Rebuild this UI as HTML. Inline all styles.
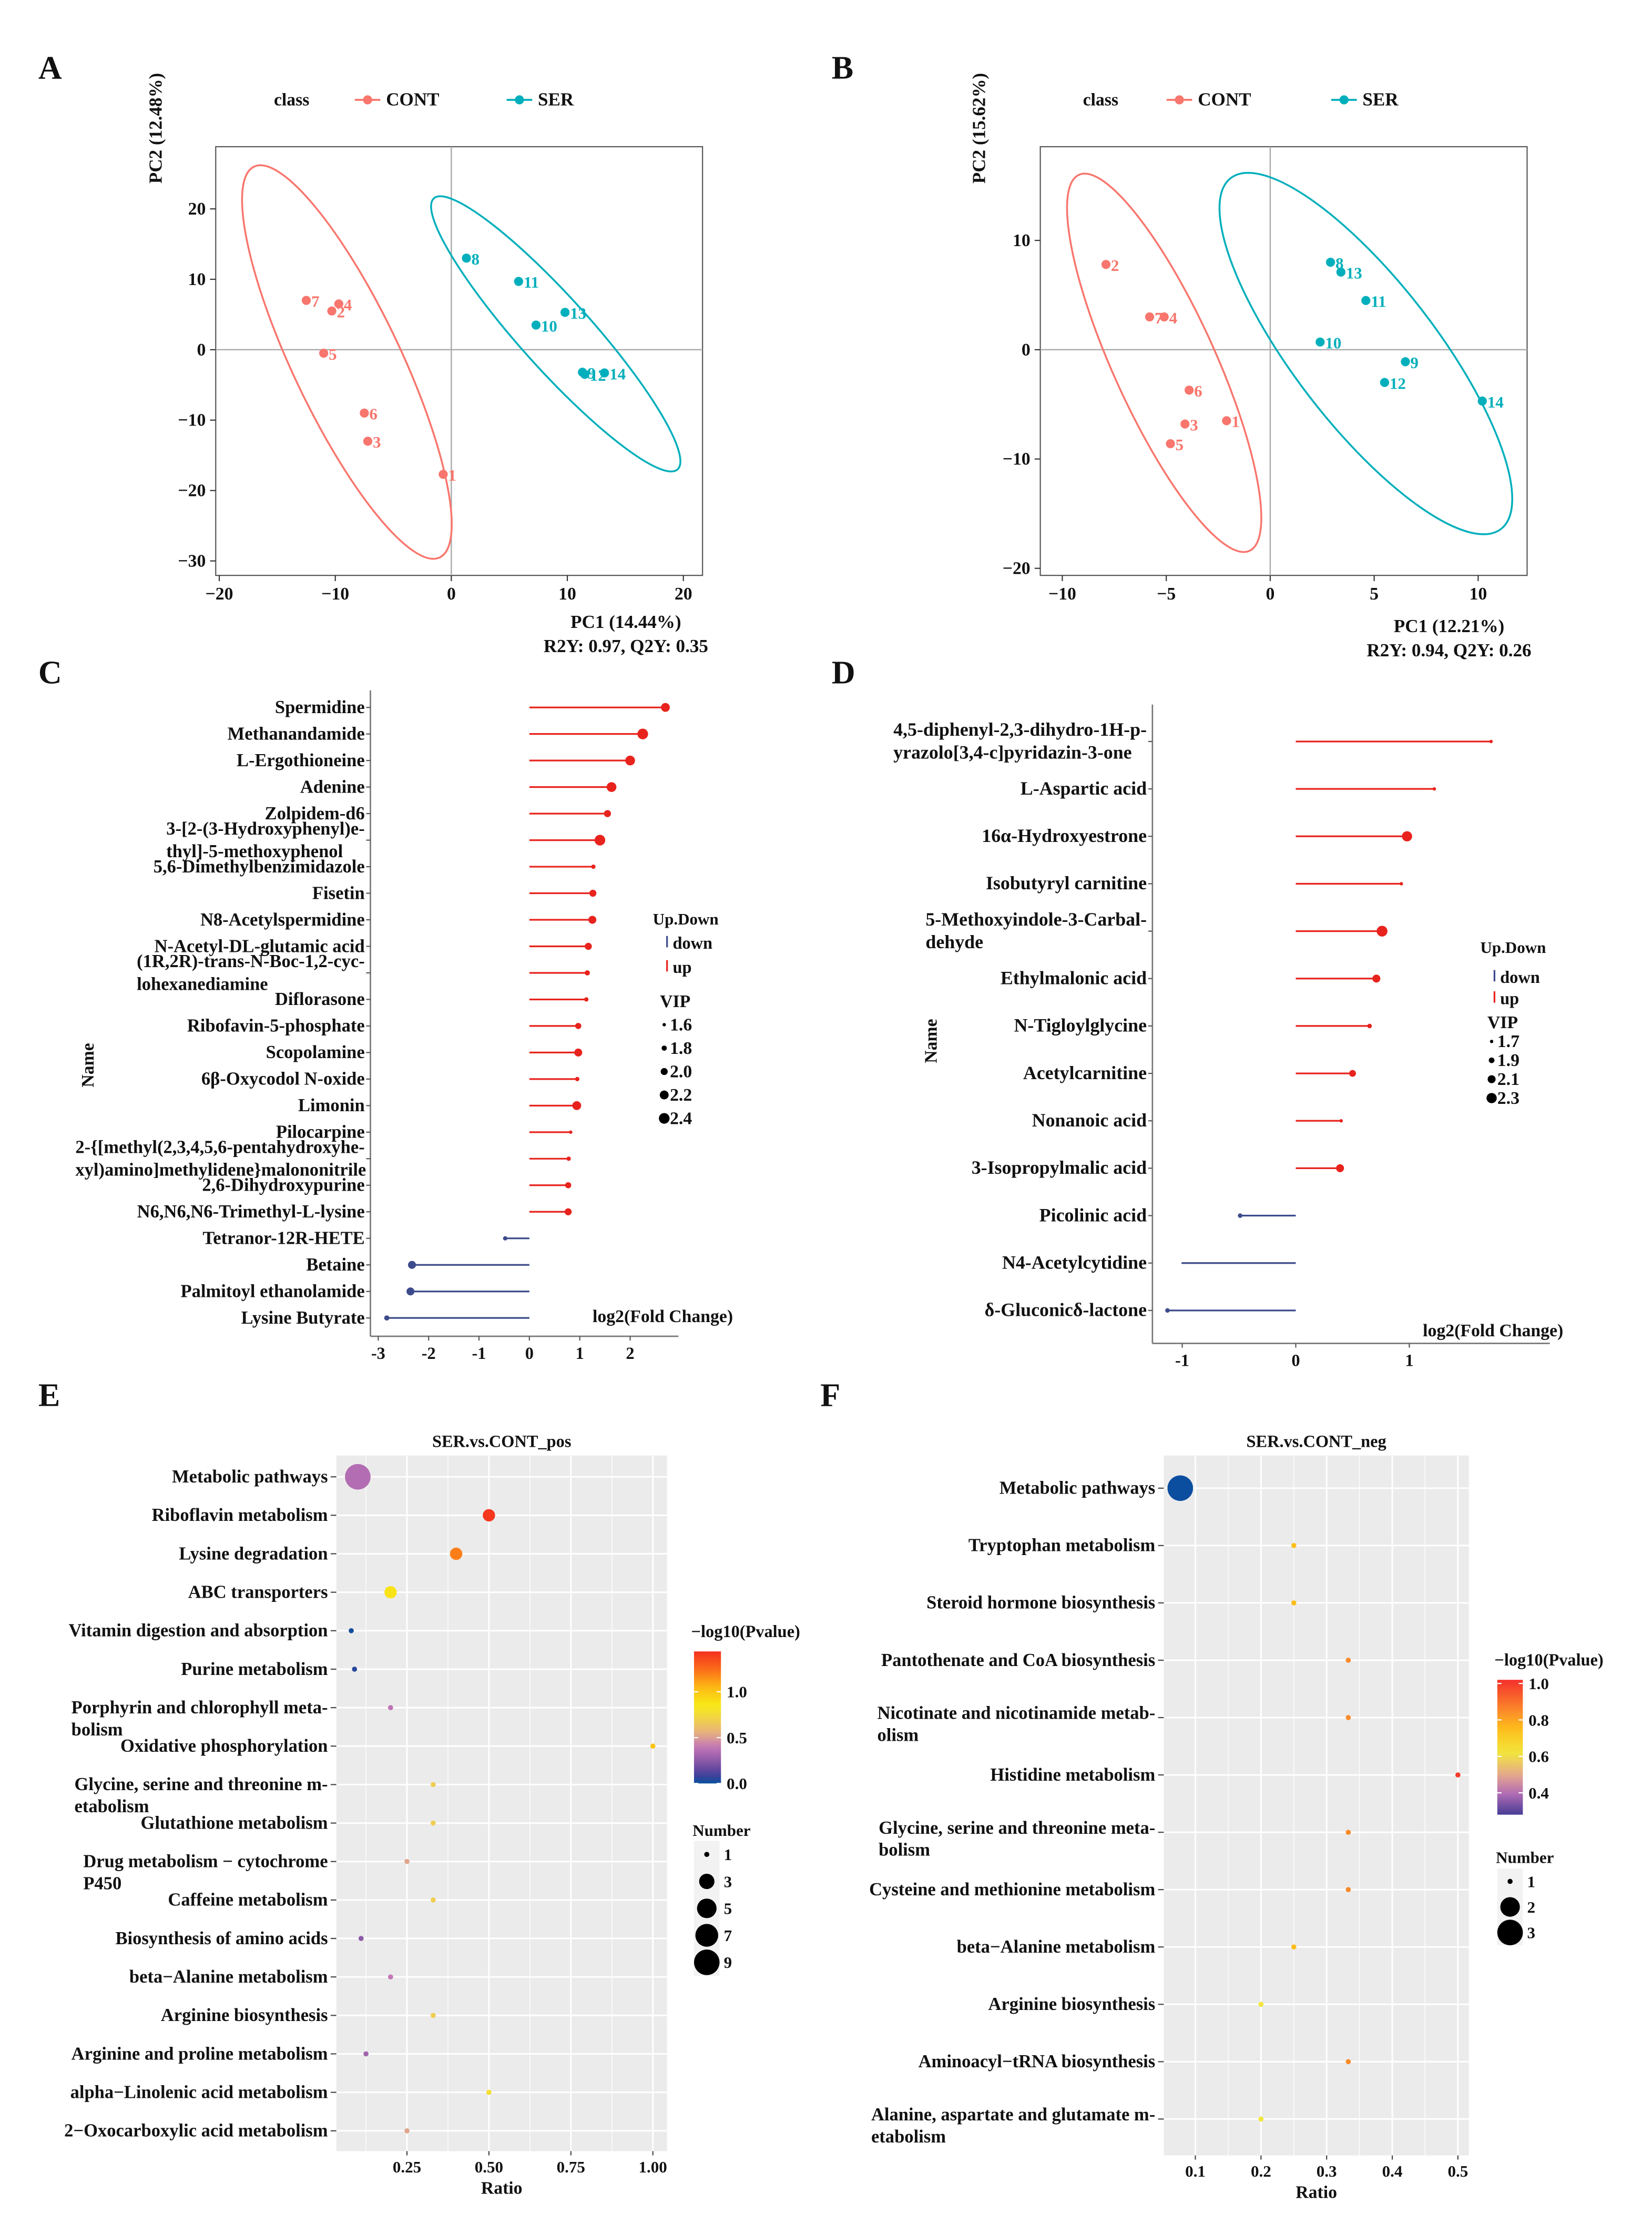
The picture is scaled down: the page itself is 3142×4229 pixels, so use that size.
<!DOCTYPE html>
<html><head><meta charset="utf-8"><title>Metabolomics figure A-F</title>
<style>
html,body{margin:0;padding:0;background:#fff;}
svg{display:block;}
text{font-family:"Liberation Serif","DejaVu Serif",serif;font-weight:bold;fill:#111;}
</style></head>
<body>
<svg id="fig" xmlns="http://www.w3.org/2000/svg" width="3142" height="4229" viewBox="0 0 1164 1566"></svg>
<script>
// ---------- Panel A data ----------
const pcaA_cont_ids=["1","2","3","4","5","6","7"];
const pcaA_cont_pc1=[-0.7,-10.3,-7.2,-9.7,-11,-7.5,-12.5];
const pcaA_cont_pc2=[-17.7,5.5,-13,6.5,-0.5,-9,7];
const pcaA_ser_ids=["8","9","10","11","12","13","14"];
const pcaA_ser_pc1=[1.3,11.3,7.3,5.8,11.5,9.8,13.2];
const pcaA_ser_pc2=[13,-3.2,3.5,9.7,-3.5,5.3,-3.3];
const pcaA_xticks=[-20,-10,0,10,20];
const pcaA_yticks=[20,10,0,-10,-20,-30];
// ---------- Panel B data ----------
const pcaB_cont_ids=["1","2","3","4","5","6","7"];
const pcaB_cont_pc1=[-2.1,-7.9,-4.1,-5.1,-4.8,-3.9,-5.8];
const pcaB_cont_pc2=[-6.5,7.8,-6.8,3,-8.6,-3.7,3];
const pcaB_ser_ids=["8","9","10","11","12","13","14"];
const pcaB_ser_pc1=[2.9,6.5,2.4,4.6,5.5,3.4,10.2];
const pcaB_ser_pc2=[8,-1.1,0.7,4.5,-3,7.1,-4.7];
const pcaB_xticks=[-10,-5,0,5,10];
const pcaB_yticks=[10,0,-10,-20];
// ---------- Panel C data ----------
const lolC_names=["Spermidine","Methanandamide","L-Ergothioneine","Adenine","Zolpidem-d6","3-[2-(3-Hydroxyphenyl)e-\nthyl]-5-methoxyphenol","5,6-Dimethylbenzimidazole","Fisetin","N8-Acetylspermidine","N-Acetyl-DL-glutamic acid","(1R,2R)-trans-N-Boc-1,2-cyc-\nlohexanediamine","Diflorasone","Ribofavin-5-phosphate","Scopolamine","6β-Oxycodol N-oxide","Limonin","Pilocarpine","2-{[methyl(2,3,4,5,6-pentahydroxyhe-\nxyl)amino]methylidene}malononitrile","2,6-Dihydroxypurine","N6,N6,N6-Trimethyl-L-lysine","Tetranor-12R-HETE","Betaine","Palmitoyl ethanolamide","Lysine Butyrate"];
const lolC_fc=[2.7,2.25,2.0,1.63,1.55,1.4,1.27,1.26,1.25,1.17,1.15,1.13,0.97,0.97,0.95,0.94,0.82,0.78,0.77,0.77,-0.48,-2.33,-2.36,-2.83];
const lolC_vip=[2.2,2.4,2.3,2.3,2.0,2.4,1.7,2.0,2.1,2.0,1.8,1.7,1.9,2.1,1.7,2.2,1.6,1.7,1.9,2.0,1.7,2.1,2.1,1.8];
const lolC_xticks=[-3,-2,-1,0,1,2];
const lolC_vipLegend=[1.6,1.8,2.0,2.2,2.4];
// ---------- Panel D data ----------
const lolD_names=["4,5-diphenyl-2,3-dihydro-1H-p-\nyrazolo[3,4-c]pyridazin-3-one","L-Aspartic acid","16α-Hydroxyestrone","Isobutyryl carnitine","5-Methoxyindole-3-Carbal-\ndehyde","Ethylmalonic acid","N-Tigloylglycine","Acetylcarnitine","Nonanoic acid","3-Isopropylmalic acid","Picolinic acid","N4-Acetylcytidine","δ-Gluconicδ-lactone"];
const lolD_fc=[1.72,1.22,0.98,0.93,0.76,0.71,0.65,0.5,0.4,0.39,-0.49,-1.0,-1.13];
const lolD_vip=[1.7,1.7,2.3,1.7,2.35,2.1,1.8,2.0,1.7,2.1,1.8,1.55,1.8];
const lolD_xticks=[-1,0,1];
const lolD_vipLegend=[1.7,1.9,2.1,2.3];
// ---------- Panel E data ----------
const bubE_names=["Metabolic pathways","Riboflavin metabolism","Lysine degradation","ABC transporters","Vitamin digestion and absorption","Purine metabolism","Porphyrin and chlorophyll meta-\nbolism","Oxidative phosphorylation","Glycine, serine and threonine m-\netabolism","Glutathione metabolism","Drug metabolism − cytochrome\nP450","Caffeine metabolism","Biosynthesis of amino acids","beta−Alanine metabolism","Arginine biosynthesis","Arginine and proline metabolism","alpha−Linolenic acid metabolism","2−Oxocarboxylic acid metabolism"];
const bubE_ratio=[0.10,0.50,0.40,0.20,0.08,0.09,0.20,1.00,0.33,0.33,0.25,0.33,0.11,0.20,0.33,0.125,0.50,0.25];
const bubE_logp=[0.35,1.42,1.2,0.88,0.02,0.05,0.38,1.0,0.68,0.68,0.52,0.68,0.25,0.40,0.68,0.3,0.78,0.52];
const bubE_number=[9,2,2,2,1,1,1,1,1,1,1,1,1,1,1,1,1,1];
const bubE_xticks=[0.25,0.50,0.75,1.00];
const bubE_cbTicks=[1.0,0.5,0.0];
const bubE_sizeLegend=[1,3,5,7,9];
// ---------- Panel F data ----------
const bubF_names=["Metabolic pathways","Tryptophan metabolism","Steroid hormone biosynthesis","Pantothenate and CoA biosynthesis","Nicotinate and nicotinamide metab-\nolism","Histidine metabolism","Glycine, serine and threonine meta-\nbolism","Cysteine and methionine metabolism","beta−Alanine metabolism","Arginine biosynthesis","Aminoacyl−tRNA biosynthesis","Alanine, aspartate and glutamate m-\netabolism"];
const bubF_ratio=[0.077,0.25,0.25,0.333,0.333,0.5,0.333,0.333,0.25,0.2,0.333,0.2];
const bubF_logp=[0.2,0.75,0.75,0.85,0.85,1.0,0.85,0.85,0.75,0.62,0.85,0.62];
const bubF_number=[3,1,1,1,1,1,1,1,1,1,1,1];
const bubF_xticks=[0.1,0.2,0.3,0.4,0.5];
const bubF_cbTicks=[1.0,0.8,0.6,0.4];
const bubF_sizeLegend=[1,2,3];

// ---------- helpers ----------
const NS="http://www.w3.org/2000/svg";
const svg=document.getElementById('fig');
function el(tag,attrs,parent){const e=document.createElementNS(NS,tag);for(const k in attrs)e.setAttribute(k,attrs[k]);(parent||svg).appendChild(e);return e;}
function txt(x,y,s,attrs,parent){const t=el('text',Object.assign({x:x,y:y},attrs||{}),parent);t.textContent=s;return t;}
function grp(name){const g=el('g',{});return g;}
function lerpColor(stops,v){if(v<=stops[0][0])return stops[0][1];if(v>=stops[stops.length-1][0])return stops[stops.length-1][1];
 for(let i=0;i<stops.length-1;i++){const a=stops[i],b=stops[i+1];if(v>=a[0]&&v<=b[0]){const t=(v-a[0])/(b[0]-a[0]);
  const ca=hex(a[1]),cb=hex(b[1]);return 'rgb('+[0,1,2].map(j=>Math.round(ca[j]+(cb[j]-ca[j])*t)).join(',')+')';}}}
function hex(h){return [parseInt(h.substr(1,2),16),parseInt(h.substr(3,2),16),parseInt(h.substr(5,2),16)];}
function mlabel(x,y,s,size,lh,firstOffset,parent){
 const lines=s.split('\n');
 const y0=y+firstOffset(lines.length);
 const first=txt(x,y0,lines[0],{'text-anchor':'end','font-size':size},parent);
 
 
 if(lines.length>1){const w=first.getComputedTextLength();
  for(let i=1;i<lines.length;i++){const t=txt(x-w,y0+i*lh,lines[i],{'text-anchor':'start','font-size':size},parent);
   
   }}
}
const CONT='#F8766D', SER='#00AFBB';

[['A',27,55],['B',586,55],['C',27,481],['D',586,481],['E',27,990],['F',578,990]].forEach(p=>{
 const t=txt(p[1],p[2],p[0],{'font-size':23});
 
 
});

function pca(cfg){
 const g=grp(cfg.name);
 const X=v=>cfg.x0+v*cfg.sx, Y=v=>cfg.y0-v*cfg.sy;
 const r=el('rect',{x:cfg.L,y:cfg.T,width:cfg.R-cfg.L,height:cfg.B-cfg.T,fill:'#fff',stroke:'#555','stroke-width':0.8},g);
 
 
 const zx=el('line',{x1:X(0),x2:X(0),y1:cfg.T,y2:cfg.B,stroke:'#aaa','stroke-width':0.9},g);
 
 
 const zy=el('line',{x1:cfg.L,x2:cfg.R,y1:Y(0),y2:Y(0),stroke:'#aaa','stroke-width':0.9},g);
 
 
 cfg.xticks.forEach(v=>{
  el('line',{x1:X(v),x2:X(v),y1:cfg.B,y2:cfg.B+4,stroke:'#333','stroke-width':0.8},g);
  const t=txt(X(v),cfg.B+17,v<0?'−'+Math.abs(v):String(v),{'text-anchor':'middle','font-size':12.5},g);
  
  
 });
 cfg.yticks.forEach(v=>{
  el('line',{x1:cfg.L-4,x2:cfg.L,y1:Y(v),y2:Y(v),stroke:'#333','stroke-width':0.8},g);
  const t=txt(cfg.L-7,Y(v)+4,v<0?'−'+Math.abs(v):String(v),{'text-anchor':'end','font-size':12.5},g);
  
  
 });
 cfg.ellipses.forEach(e=>{
  const x1=X(e.top[0]),y1=Y(e.top[1]),x2=X(e.bot[0]),y2=Y(e.bot[1]);
  const cx=(x1+x2)/2,cy=(y1+y2)/2,a=Math.hypot(x2-x1,y2-y1)/2,ang=Math.atan2(y2-y1,x2-x1)*180/Math.PI;
  const el2=el('ellipse',{cx:cx,cy:cy,rx:a,ry:e.b,fill:'none',stroke:e.color,'stroke-width':1.3,transform:'rotate('+ang+' '+cx+' '+cy+')'},g);
  
  
 });
 cfg.series.forEach(s=>{
  s.x.forEach((v,i)=>{
   const c=el('circle',{cx:X(v),cy:Y(s.y[i]),r:3.2,fill:s.color},g);
   
   
   const t=txt(X(v)+3.5,Y(s.y[i])+4.5,s.ids[i],{'font-size':11.5,style:'fill:'+s.color},g);
   
   
  });
 });
 const xt=txt(cfg.xtitle[1],cfg.xtitle[2],cfg.xtitle[0],{'text-anchor':'middle','font-size':13},g);
 
 
 const st=txt(cfg.xtitle[1],cfg.xtitle[2]+17,cfg.stat,{'text-anchor':'middle','font-size':13},g);
 
 
 const yt=txt(0,0,cfg.ytitle[0],{'text-anchor':'middle','font-size':13,transform:'translate('+cfg.ytitle[1]+','+cfg.ytitle[2]+') rotate(-90)'},g);
 
 
 const lc=txt(cfg.leg[0],74,'class',{'font-size':12.5},g);
 
 
 [[CONT,'CONT',cfg.leg[1]],[SER,'SER',cfg.leg[2]]].forEach(L=>{
  const lg=el('g',{},g);
  
  
  el('line',{x1:L[2],x2:L[2]+18,y1:70,y2:70,stroke:L[0],'stroke-width':1.4},lg);
  el('circle',{cx:L[2]+9,cy:70,r:3.2,fill:L[0]},lg);
  txt(L[2]+22,74,L[1],{'font-size':13},lg);
 });
}
pca({name:'panel-a-pca',L:152,R:495,T:103,B:405,x0:318,sx:8.175,y0:246,sy:4.96,xticks:pcaA_xticks,yticks:pcaA_yticks,
 ellipses:[{top:[-17,26],bot:[-1,-29.5],b:38,color:CONT},{top:[-1.5,21.5],bot:[19.5,-17],b:25,color:SER}],
 series:[{ids:pcaA_cont_ids,x:pcaA_cont_pc1,y:pcaA_cont_pc2,color:CONT},{ids:pcaA_ser_ids,x:pcaA_ser_pc1,y:pcaA_ser_pc2,color:SER}],
 xtitle:['PC1 (14.44%)',441,442],stat:'R2Y: 0.97, Q2Y: 0.35',ytitle:['PC2 (12.48%)',114,90],leg:[193,250,357]});
pca({name:'panel-b-pca',L:733,R:1076,T:103,B:405,x0:895,sx:14.65,y0:246,sy:7.7,xticks:pcaB_xticks,yticks:pcaB_yticks,
 ellipses:[{top:[-9.2,16],bot:[-1.0,-18.4],b:36,color:CONT},{top:[-1.9,15.7],bot:[11.1,-16.4],b:50,color:SER}],
 series:[{ids:pcaB_cont_ids,x:pcaB_cont_pc1,y:pcaB_cont_pc2,color:CONT},{ids:pcaB_ser_ids,x:pcaB_ser_pc1,y:pcaB_ser_pc2,color:SER}],
 xtitle:['PC1 (12.21%)',1021,445],stat:'R2Y: 0.94, Q2Y: 0.26',ytitle:['PC2 (15.62%)',694,90],leg:[763,822,938]});

function lollipop(cfg){
 const g=grp(cfg.name);
 const X=v=>cfg.x0+v*cfg.sx, Yr=i=>cfg.r0+i*cfg.step;
 const ax=el('line',{x1:cfg.axX,x2:cfg.axX,y1:cfg.axT,y2:cfg.axB,stroke:'#777','stroke-width':1},g);
 
 
 const bx=el('line',{x1:cfg.axX,x2:cfg.axR,y1:cfg.axB,y2:cfg.axB,stroke:'#777','stroke-width':1},g);
 
 
 cfg.xticks.forEach(v=>{
  el('line',{x1:X(v),x2:X(v),y1:cfg.axB,y2:cfg.axB+3,stroke:'#555','stroke-width':0.8},g);
  const t=txt(X(v),cfg.axB+16,v<0?'-'+Math.abs(v):String(v),{'text-anchor':'middle','font-size':12},g);
  
  
 });
 cfg.names.forEach((n,i)=>{
  const y=Yr(i),v=cfg.fc[i],col=v>=0?'#e8231d':'#3d4b8c';
  el('line',{x1:cfg.axX-3,x2:cfg.axX,y1:y,y2:y,stroke:'#555','stroke-width':0.8},g);
  mlabel(cfg.axX-4,y+4,n,cfg.fs,16,cfg.off,g);
  const st=el('line',{x1:X(0),x2:X(v),y1:y,y2:y,stroke:col,'stroke-width':1.2},g);
  
  
  const c=el('circle',{cx:X(v),cy:y,r:cfg.rad(cfg.vip[i]),fill:col},g);
  
  
 });
 const nm=txt(0,0,'Name',{'text-anchor':'middle','font-size':12.5,transform:'translate('+cfg.nameXY[0]+','+cfg.nameXY[1]+') rotate(-90)'},g);
 
 
 const xt=txt(cfg.xt[0],cfg.xt[1],'log2(Fold Change)',{'text-anchor':'middle','font-size':12.5},g);
 
 
 const L=cfg.leg;
 const ut=txt(L.x,L.y,'Up.Down',{'font-size':11.5},g);
 
 
 [['down','#3d4b8c',L.y+L.d1],['up','#e8231d',L.y+L.d1+L.d2]].forEach(e=>{
  const lg=el('g',{},g);
  
  
  el('line',{x1:L.x+10,x2:L.x+10,y1:e[2]-9,y2:e[2]-1,stroke:e[1],'stroke-width':1.2},lg);
  txt(L.x+14,e[2],e[0],{'font-size':12},lg);
 });
 const vt=txt(L.x+5,L.vy,'VIP',{'font-size':12.5},g);
 
 
 cfg.vipLeg.forEach((v,i)=>{
  const yy=L.vy+L.vs*(i+1);
  const c=el('circle',{cx:L.x+8,cy:yy-4,r:cfg.rad(v),fill:'#000'},g);
  
  
  const t=txt(L.x+12,yy,v.toFixed(1),{'font-size':12.5},g);
  
  
 });
}
lollipop({name:'panel-c-lollipop',names:lolC_names,fc:lolC_fc,vip:lolC_vip,xticks:lolC_xticks,vipLeg:lolC_vipLegend,
 x0:373,sx:35.5,r0:498,step:18.7,axX:261,axT:486,axB:941,axR:478,fs:12.8,off:n=>-(n-1)*8,
 rad:v=>1.2+(v-1.6)*3.2,nameXY:[66,750],xt:[467,931],
 leg:{x:460,y:651,d1:17,d2:17,vy:709,vs:16.5}});
lollipop({name:'panel-d-lollipop',names:lolD_names,fc:lolD_fc,vip:lolD_vip,xticks:lolD_xticks,vipLeg:lolD_vipLegend,
 x0:913,sx:80,r0:522,step:33.4,axX:812,axT:496,axB:946,axR:1092,fs:13.3,off:n=>-(n-1)*8,
 rad:v=>Math.max(0.6,1.2+(v-1.7)*4),nameXY:[660,733],xt:[1052,941],
 leg:{x:1043,y:671,d1:21,d2:15,vy:724,vs:13.3}});

function bubble(cfg){
 const g=grp(cfg.name);
 const X=v=>cfg.x0+v*cfg.sx, Yr=i=>cfg.r0+i*cfg.step;
 const bg=el('rect',{x:cfg.L,y:cfg.T,width:cfg.R-cfg.L,height:cfg.B-cfg.T,fill:'#ebebeb'},g);
 
 
 cfg.xticks.forEach((v,i)=>{
  if(i<cfg.xticks.length-1){const m=(v+cfg.xticks[i+1])/2;
   el('line',{x1:X(m),x2:X(m),y1:cfg.T,y2:cfg.B,stroke:'#fff','stroke-width':0.5},g);}
  if(i===0){const m=v-(cfg.xticks[1]-v)/2;if(X(m)>cfg.L)el('line',{x1:X(m),x2:X(m),y1:cfg.T,y2:cfg.B,stroke:'#fff','stroke-width':0.5},g);}
  const gl=el('line',{x1:X(v),x2:X(v),y1:cfg.T,y2:cfg.B,stroke:'#fff','stroke-width':1.1},g);
  
  
  el('line',{x1:X(v),x2:X(v),y1:cfg.B,y2:cfg.B+3,stroke:'#444','stroke-width':0.8},g);
  const t=txt(X(v),cfg.B+15,v.toFixed(cfg.dec),{'text-anchor':'middle','font-size':11.5},g);
  
  
 });
 cfg.names.forEach((n,i)=>{
  const y=Yr(i);
  el('line',{x1:cfg.L,x2:cfg.R,y1:y,y2:y,stroke:'#fff','stroke-width':1.1},g);
  el('line',{x1:cfg.L-4,x2:cfg.L,y1:y,y2:y,stroke:'#444','stroke-width':0.8},g);
  mlabel(cfg.L-6,y+4,n,12.8,15.5,cfg.off,g);
 });
 cfg.names.forEach((n,i)=>{
  const c=el('circle',{cx:X(cfg.ratio[i]),cy:Yr(i),r:cfg.rad(cfg.number[i]),fill:lerpColor(cfg.stops,cfg.logp[i])},g);
  
  
 });
 const tt=txt((cfg.L+cfg.R)/2,cfg.T-6,cfg.title,{'text-anchor':'middle','font-size':12},g);
 
 
 const xt=txt((cfg.L+cfg.R)/2,cfg.B+30,'Ratio',{'text-anchor':'middle','font-size':12.5},g);
 
 
 const cb=cfg.cb;
 const defs=el('defs',{},g);
 const lg=el('linearGradient',{id:cfg.name+'-grad',x1:0,y1:1,x2:0,y2:0},defs);
 for(let k=0;k<=20;k++){const v=cb.vmin+(cb.vmax-cb.vmin)*k/20;el('stop',{offset:(k/20),'stop-color':lerpColor(cfg.stops,v)},lg);}
 const ct=txt(cb.x-2,cb.top-10,'−log10(Pvalue)',{'font-size':12},g);
 
 
 const bar=el('rect',{x:cb.x,y:cb.top,width:cb.w,height:cb.bot-cb.top,fill:'url(#'+cfg.name+'-grad)'},g);
 
 
 const CY=v=>cb.bot-(v-cb.vmin)/(cb.vmax-cb.vmin)*(cb.bot-cb.top);
 cfg.cbTicks.forEach(v=>{
  el('line',{x1:cb.x,x2:cb.x+3,y1:CY(v),y2:CY(v),stroke:'#fff','stroke-width':0.8},g);
  el('line',{x1:cb.x+cb.w-3,x2:cb.x+cb.w,y1:CY(v),y2:CY(v),stroke:'#fff','stroke-width':0.8},g);
  const t=txt(cb.x+cb.w+4,CY(v)+4,v.toFixed(1),{'font-size':11.5},g);
  
  
 });
 const nt=txt(cb.x-1,cfg.sz.y0-13,'Number',{'font-size':11.5},g);
 
 
 cfg.sizeLeg.forEach((n,i)=>{
  const yy=cfg.sz.y0+i*cfg.sz.dy;
  el('rect',{x:cb.x,y:yy-cfg.sz.dy/2,width:18,height:cfg.sz.dy,fill:'#f2f2f2'},g);
  const c=el('circle',{cx:cb.x+9,cy:yy,r:cfg.rad(n),fill:'#000'},g);
  
  
  const t=txt(cb.x+21,yy+4,String(n),{'font-size':11.5},g);
  
  
 });
}
const stopsE=[[0,'#08519c'],[0.1,'#4a3e9a'],[0.25,'#8e5aa8'],[0.4,'#c477b8'],[0.55,'#e7b07f'],[0.7,'#f0d24a'],[0.85,'#f8ea17'],[1.05,'#fdb813'],[1.25,'#fb6a1a'],[1.44,'#f4311e']];
const stopsF=[[0.2,'#0b4ea0'],[0.28,'#463c96'],[0.4,'#b66fb5'],[0.5,'#e5a98b'],[0.62,'#f2e63c'],[0.75,'#fdbe1a'],[0.85,'#fb8a2a'],[1.02,'#f3302b']];
bubble({name:'panel-e-bubble',title:'SER.vs.CONT_pos',names:bubE_names,ratio:bubE_ratio,logp:bubE_logp,number:bubE_number,xticks:bubE_xticks,dec:2,
 L:237,R:470,T:1025,B:1515,x0:229,sx:231,r0:1040,step:27.1,off:n=>0,stops:stopsE,
 rad:n=>1.8+7.2*Math.sqrt((n-1)/8),cbTicks:bubE_cbTicks,sizeLeg:bubE_sizeLegend,
 cb:{x:489,w:19,top:1163,bot:1256,vmin:0,vmax:1.44},sz:{y0:1306,dy:19}});
bubble({name:'panel-f-bubble',title:'SER.vs.CONT_neg',names:bubF_names,ratio:bubF_ratio,logp:bubF_logp,number:bubF_number,xticks:bubF_xticks,dec:1,
 L:820,R:1035,T:1025,B:1518,x0:796,sx:462.5,r0:1048,step:40.4,off:n=>n>1?-3:0,stops:stopsF,
 rad:n=>n===1?1.8:1.8+7.2*Math.sqrt((n-1)/2),cbTicks:bubF_cbTicks,sizeLeg:bubF_sizeLegend,
 cb:{x:1055,w:18,top:1183,bot:1278,vmin:0.28,vmax:1.02},sz:{y0:1325,dy:18}});
</script>
</body></html>
